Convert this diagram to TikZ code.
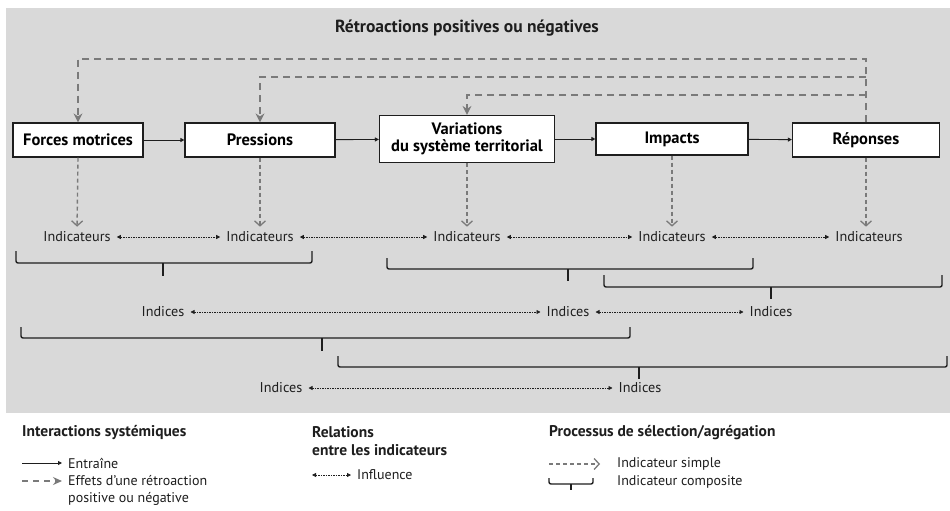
\documentclass[tikz,border=0pt]{standalone}
\usepackage{fontspec}
\setmainfont{PT Sans}
\usetikzlibrary{arrows.meta}
\definecolor{bggray}{HTML}{D9D9D9}
\definecolor{fbgray}{HTML}{7A7A7A}
\definecolor{inkc}{HTML}{1E1E1E}
\tikzset{
  box/.style={draw=inkc, line width=1.2pt, fill=white, font=\bfseries\fontsize{16.5}{17}\selectfont, align=center, inner sep=0pt},
  ind/.style={font=\fontsize{14.2}{16}\selectfont, inner sep=2pt, text=inkc},
  cause/.style={draw=inkc, line width=0.9pt, -{Triangle[length=4pt,width=4pt]}},
  fb/.style={draw=fbgray, line width=1.8pt, dash pattern=on 7pt off 5pt, line join=miter},
  fbtip/.style={-{Stealth[length=9pt,width=9pt,inset=3pt]}},
  simple/.style={draw=fbgray, line width=1.4pt, dash pattern=on 4pt off 3pt, -{Straight Barb[length=5pt,width=11pt,line width=1.3pt]}, shorten >=3pt},
  influ/.style={draw=inkc, line width=0.8pt, dash pattern=on 1.5pt off 1pt, {Triangle[length=4pt,width=4pt]}-{Triangle[length=4pt,width=4pt]}, shorten >=4pt, shorten <=4pt},
  comp/.style={draw=inkc, line width=1.4pt, rounded corners=2pt},
  head/.style={font=\bfseries\fontsize{15.5}{17.5}\selectfont, anchor=west, align=left, text=inkc, inner sep=0pt},
  leg/.style={font=\fontsize{14}{17}\selectfont, anchor=west, align=left, text=inkc, inner sep=0pt},
}
\newcommand{\compbrace}[6]{% left, right, top, line, stem x, bottom
  \draw[comp] (#1,#3) -- (#1,#4) -- (#2,#4) -- (#2,#3);
  \draw[comp] (#5,#4) -- (#5,#6);
}
\begin{document}
\begin{tikzpicture}[x=1pt,y=-1pt]
\useasboundingbox (0,0) rectangle (950,511);
\fill[white] (0,0) rectangle (950,511);
\fill[bggray] (6,8) rectangle (950,413);

\node[font=\bfseries\fontsize{17.5}{19}\selectfont, text=inkc] (title) at (467,28) {Rétroactions positives ou négatives};

% boxes
\node[box, minimum width=130pt, minimum height=34pt] (fm) at (78,140) {Forces motrices};
\node[box, minimum width=150pt, minimum height=34pt] (pr) at (260,140) {Pressions};
\node[box, minimum width=175pt, minimum height=47pt] (va) at (467,139) {Variations\\du système territorial};
\node[box, minimum width=152pt, minimum height=32pt] (im) at (672,139) {Impacts};
\node[box, minimum width=147pt, minimum height=34pt] (re) at (866,140) {Réponses};

% causal arrows
\draw[cause] (fm) -- (pr);
\draw[cause] (pr) -- (va);
\draw[cause] (va) -- (im);
\draw[cause] (im) -- (re);

% feedback
\coordinate (t1) at (866,59);
\coordinate (t2) at (866,77);
\coordinate (t3) at (866,95);
\draw[fb, fbtip] (re.north) -- (t1) -| (fm.north);
\draw[fb, fbtip] (t2) -| (pr.north);
\draw[fb, fbtip] (t3) -| (va.north);

% indicators
\node[ind] (i1) at (77,237) {Indicateurs};
\node[ind] (i2) at (260,237) {Indicateurs};
\node[ind] (i3) at (467,237) {Indicateurs};
\node[ind] (i4) at (672,237) {Indicateurs};
\node[ind] (i5) at (869,237) {Indicateurs};

\draw[simple] (fm.south) -- (i1.north);
\draw[simple] (pr.south) -- (i2.north);
\draw[simple] (va.south) -- (i3.north);
\draw[simple] (im.south) -- (i4.north);
\draw[simple] (re.south) -- (re.south |- i5.north);

\draw[influ] (i1) -- (i2);
\draw[influ] (i2) -- (i3);
\draw[influ] (i3) -- (i4);
\draw[influ] (i4) -- (i5);

% composite braces level 1
\compbrace{16}{312}{251}{263}{163}{276}
\compbrace{387}{753}{258}{269}{568}{281}
\compbrace{604}{942}{275}{287}{771}{299}

% indices level 2
\node[ind] (x1) at (163,312) {Indices};
\node[ind] (x2) at (568,312) {Indices};
\node[ind] (x3) at (771,312) {Indices};
\draw[influ] (x1) -- (x2);
\draw[influ] (x2) -- (x3);

% composite braces level 2
\compbrace{21}{630}{327}{338}{322}{351}
\compbrace{338}{947}{356}{367}{639}{379}

% indices level 3
\node[ind] (y1) at (281,388) {Indices};
\node[ind] (y2) at (640,388) {Indices};
\draw[influ] (y1) -- (y2);

% legend
\node[head] (h1) at (22,433) {Interactions systémiques};
\coordinate (la1) at (22,463);
\coordinate (lb1) at (62,463);
\draw[cause] (la1) -- (lb1);
\node[leg] (l1) at (68,463) {Entraîne};
\coordinate (la2) at (22,481);
\coordinate (lb2) at (62,481);
\draw[draw=fbgray, line width=1.6pt, dash pattern=on 6pt off 5pt, -{Stealth[length=9pt,width=8pt,inset=3pt]}] (la2) -- (lb2);
\node[leg] (l2) at (68,490) {Effets d’une rétroaction\\positive ou négative};

\node[head] (h2) at (312,441) {Relations\\entre les indicateurs};
\coordinate (la3) at (312,475);
\coordinate (lb3) at (351,475);
\draw[draw=inkc, line width=0.8pt, dash pattern=on 1.5pt off 1pt, {Triangle[length=4pt,width=4pt]}-{Triangle[length=4pt,width=4pt]}] (la3) -- (lb3);
\node[leg] (l3) at (357,475) {Influence};

\node[head] (h3) at (549,433) {Processus de sélection/agrégation};
\coordinate (la4) at (549,464);
\coordinate (lb4) at (600,464);
\draw[draw=fbgray, line width=1.4pt, dash pattern=on 4pt off 3pt, -{Straight Barb[length=5pt,width=11pt,line width=1.3pt]}] (la4) -- (lb4);
\node[leg] (l4) at (617,464) {Indicateur simple};
\compbrace{549}{593}{478}{484}{571}{490}
\node[leg] (l5) at (617,482) {Indicateur composite};
\end{tikzpicture}
\end{document}
